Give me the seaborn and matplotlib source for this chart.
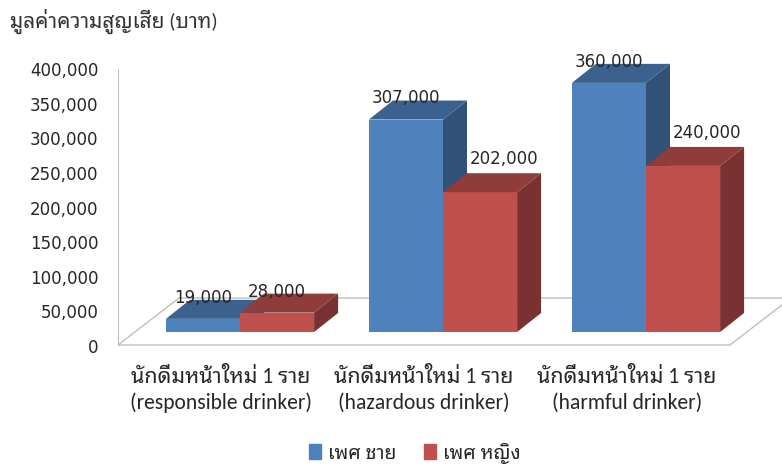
import matplotlib
matplotlib.use('Agg')
import matplotlib.pyplot as plt
from matplotlib import font_manager
from matplotlib.patches import Polygon, Patch
import seaborn as sns
import pandas as pd
import numpy as np

# data
groups = ['นักดื่มหน้าใหม่ 1 ราย\n(responsible drinker)',
          'นักดื่มหน้าใหม่ 1 ราย\n(hazardous drinker)',
          'นักดื่มหน้าใหม่ 1 ราย\n(harmful drinker)']
series = ['เพศ ชาย', 'เพศ หญิง']
male = [19000, 307000, 360000]
female = [28000, 202000, 240000]
yticks = [0, 50000, 100000, 150000, 200000, 250000, 300000, 350000, 400000]
title = 'มูลค่าความสูญเสีย (บาท)'

colors = ['#4F81BD', '#C0504D']


def pick(names):
    have = {f.name for f in font_manager.fontManager.ttflist}
    for n in names:
        if n in have:
            return n
    return 'DejaVu Sans'


thai = pick(['Noto Sans Thai Looped', 'Noto Sans Thai', 'Sarabun', 'Anuphan'])
latin = pick(['Carlito', 'Liberation Sans'])

sns.set_style('white')
plt.rcParams['font.family'] = [latin, thai, 'DejaVu Sans']

df = pd.DataFrame({
    'group': groups * 2,
    'sex': [series[0]] * 3 + [series[1]] * 3,
    'value': male + female,
})

W, H = 782, 468
fig = plt.figure(figsize=(W / 100, H / 100), dpi=100)
ax = fig.add_axes([118 / W, (H - 360) / H, (W - 118) / W, 320 / H])

sns.barplot(data=df, x='group', y='value', hue='sex', palette=colors,
            saturation=1, width=0.73, linewidth=0, errorbar=None,
            legend=False, ax=ax)
bars = sorted(ax.patches, key=lambda p: p.get_x())

# pixel geometry of the fake 3d view
px_x = 203.0          # pixels per category
px_y = 1445.0         # value units per pixel
x0_pix = 240          # pixel of category 0 (bar front)
base_pix = 332        # pixel of value 0 on the bar fronts
xlim = ((118 - x0_pix) / px_x, (W - x0_pix) / px_x)
ylim = (-(360 - base_pix) * px_y, (base_pix - 40) * px_y)
ax.set_xlim(*xlim)
ax.set_ylim(*ylim)
dx = 24 / px_x
dy = 19 * px_y

# floor
yf = -(345 - base_pix) * px_y
fdx, fdy = 61 / px_x, 47 * px_y
xr = (730 - x0_pix) / px_x
floor = Polygon([(xlim[0], yf), (xr, yf), (xr + fdx, yf + fdy), (xlim[0] + fdx, yf + fdy)],
                closed=True, facecolor='white', edgecolor='#BFBFBF', lw=1, zorder=1)
ax.add_patch(floor)

for i, p in enumerate(bars):
    x0, w, h = p.get_x(), p.get_width(), p.get_height()
    c = np.array(p.get_facecolor()[:3])
    top = Polygon([(x0, h), (x0 + w, h), (x0 + w + dx, h + dy), (x0 + dx, h + dy)],
                  closed=True, facecolor=c * 0.75, lw=0, zorder=3 + i * 3)
    side = Polygon([(x0 + w, 0), (x0 + w + dx, dy), (x0 + w + dx, h + dy), (x0 + w, h)],
                   closed=True, facecolor=c * 0.63, lw=0, zorder=2 + i * 3)
    p.set_zorder(3 + i * 3)
    ax.add_patch(top)
    ax.add_patch(side)
    # value label, pushed right/up when the bar to its left is taller
    lx, off = x0 + w / 2, 1.5
    if i % 2 == 1 and bars[i - 1].get_height() > h:
        lx += dx
        off = 10
    ax.annotate(f'{int(round(h)):,}', (lx, h + dy), xytext=(0, off), textcoords='offset points',
                ha='center', va='center', fontsize=12, family='DejaVu Sans', zorder=40)

# axes styling
for s in ['top', 'right', 'bottom']:
    ax.spines[s].set_visible(False)
tick_shift = -(346 - base_pix) * px_y
ax.spines['left'].set_color('#BFBFBF')
ax.spines['left'].set_bounds(yf, yticks[-1] + tick_shift)
ax.set_yticks([t + tick_shift for t in yticks], [f'{t:,}' for t in yticks],
              fontsize=12, family='DejaVu Sans')
ax.set_xticks(np.arange(len(groups)) - 19 / px_x, groups, fontsize=15.5, linespacing=1.35)
ax.tick_params(axis='y', length=0, pad=14)
ax.tick_params(axis='x', length=0, pad=5)
ax.set_xlabel('')
ax.set_ylabel('')
ax.grid(False)

fig.text(10 / W, 1 - 21 / H, title, fontsize=15, va='center', ha='left', color='#333333')

handles = [Patch(color=c) for c in colors]
fig.legend(handles, series, loc='center', bbox_to_anchor=(415 / W, 1 - 453 / H), ncol=2,
           frameon=False, handlelength=0.6, handleheight=0.8, handletextpad=0.4,
           columnspacing=1.4, prop={'family': [thai, 'DejaVu Sans'], 'size': 14})

fig.savefig('out.png', dpi=100)
